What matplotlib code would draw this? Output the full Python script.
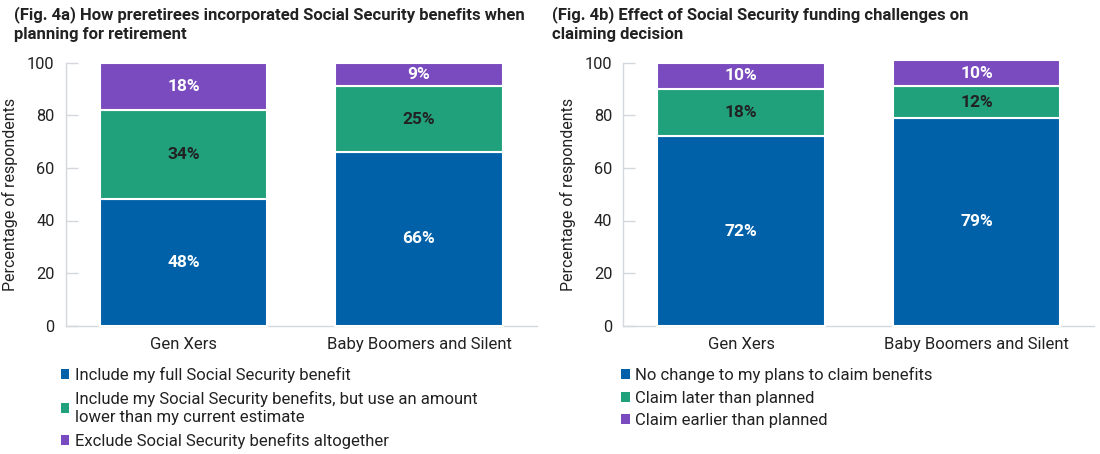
import matplotlib
matplotlib.use("Agg")
import matplotlib.pyplot as plt
from matplotlib.patches import Patch

plt.rcParams['font.family'] = ['Roboto', 'DejaVu Sans']

groups = ['Gen Xers', 'Baby Boomers and Silent']

# Fig. 4a
a_labels = ['Include my full Social Security benefit',
            'Include my Social Security benefits, but use an amount\nlower than my current estimate',
            'Exclude Social Security benefits altogether']
a_full = [48, 66]
a_lower = [34, 25]
a_exclude = [18, 9]

# Fig. 4b
b_labels = ['No change to my plans to claim benefits',
            'Claim later than planned',
            'Claim earlier than planned']
b_nochange = [72, 79]
b_later = [18, 12]
b_earlier = [10, 10]

colors = ['#0061A8', '#21A07C', '#7A4BBE']
text_colors = ['white', '#222222', 'white']
yticks = [0, 20, 40, 60, 80, 100]

W, H = 1100, 454
fig = plt.figure(figsize=(W / 100, H / 100), dpi=100)


def draw_panel(left_px, series, labels, title, title_x, legend_x):
    ax = fig.add_axes([left_px / W, 128.3 / H, 471 / W, 263 / H])
    x = range(len(groups))
    bottom = [0] * len(groups)
    for vals, col, tcol in zip(series, colors, text_colors):
        bars = ax.bar(x, vals, bottom=bottom, width=0.711, color=col,
                      edgecolor='white', linewidth=1.5, clip_on=False, zorder=3)
        for b, v, b0 in zip(bars, vals, bottom):
            ax.text(b.get_x() + b.get_width() / 2, b0 + v / 2, f'{v}%',
                    ha='center', va='center', color=tcol, fontsize=12.5,
                    fontweight='bold', zorder=4)
        bottom = [b0 + v for b0, v in zip(bottom, vals)]
    ax.set_xlim(-0.5, 1.5)
    ax.set_ylim(0, 100)
    ax.set_yticks(yticks)
    ax.set_xticks(list(x))
    ax.set_xticklabels(groups, fontsize=12, color='#222222')
    ax.tick_params(axis='x', length=0, pad=8)
    ax.tick_params(axis='y', direction='in', length=8.5, width=1,
                   color='#d4d7dc', labelsize=11.8, labelcolor='#222222', pad=8)
    for s in ['top', 'right']:
        ax.spines[s].set_visible(False)
    for s in ['left', 'bottom']:
        ax.spines[s].set_color('#d4d7dc')
        ax.spines[s].set_linewidth(1)
    ax.set_ylabel('Percentage of respondents', fontsize=11.5, color='#222222',
                  labelpad=6.5)
    fig.text(title_x / W, 1 - 6 / H, title, ha='left', va='top', fontsize=12,
             fontweight='bold', color='#222222', linespacing=1.3)
    handles = [Patch(facecolor=c, edgecolor='none') for c in colors]
    leg = fig.legend(handles, labels, loc='upper left',
                     bbox_to_anchor=(legend_x / W, 1 - 367 / H), frameon=False,
                     fontsize=12, handlelength=0.53, handleheight=0.53,
                     handletextpad=0.32, labelspacing=0.45, borderpad=0,
                     borderaxespad=0, labelcolor='#222222')
    for t in leg.get_texts():
        t.set_linespacing(1.3)
    return ax


draw_panel(65.7, [a_full, a_lower, a_exclude], a_labels,
           '(Fig. 4a) How preretirees incorporated Social Security benefits when\nplanning for retirement',
           14, 60.5)
draw_panel(623.3, [b_nochange, b_later, b_earlier], b_labels,
           '(Fig. 4b) Effect of Social Security funding challenges on\nclaiming decision',
           552, 621)

fig.savefig('out.png', dpi=100)
